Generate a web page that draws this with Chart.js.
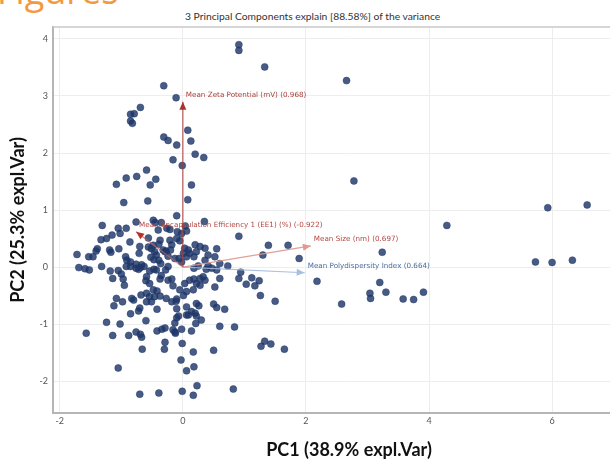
<!DOCTYPE html>
<html>
<head>
<meta charset="utf-8">
<script src="https://cdn.jsdelivr.net/npm/chart.js@4/dist/chart.umd.min.js"></script>
<style>
  html, body { margin: 0; padding: 0; background: #fff; overflow: hidden; }
  body { width: 610px; height: 462px; position: relative; }
  #slideHead { position: absolute; left: -3px; top: -27px; font: 36px "Open Sans", sans-serif; line-height: 36px; color: #f39a3e; white-space: nowrap; }
  #plotTitle { position: absolute; left: 185px; top: 10px; font: 10.3px Lato, sans-serif; color: #333; white-space: nowrap; }
  #wrap { position: absolute; left: 0; top: 0; width: 660px; height: 462px; }
</style>
</head>
<body>
<div id="slideHead">Figures</div>
<div id="plotTitle">3 Principal Components explain [88.58%] of the variance</div>
<div id="wrap"><canvas id="biplot"></canvas></div>
<script>
// PCA scores (individual samples)
const pc1Scores = [
  -0.31, -0.11, -0.69, -0.85, -0.79, -0.85, -0.82, 0.08, -0.31, -0.24, -0.10, 0.13, 0.20, 0.34, -0.16, -0.01, -0.59,
  0.91, 0.91, 1.33, 2.66, 2.78,
  4.29, 5.93, 6.57, 5.73, 6.00, 6.33, 3.58, 3.75, 3.91, 3.24, 2.18, 2.58, 3.05, 3.04, 3.20, 3.30,
  0.91, 1.39, 1.71, 1.30, 1.89, 0.55, 0.60, 0.73, 0.94, 0.91, 1.12, 1.24, 1.03, 1.17, 0.60, 1.26, 1.50, 0.50, 0.55, 0.68,
  0.60, 0.84, 1.27, 1.33, 1.43, 1.65, 0.50, 0.82, 0.30,
  -1.57, -1.24, -1.14, -1.02, -1.12, -0.85, -0.88, -0.76, -0.69, -0.67, -0.72, -0.70, -0.60, -0.66, -0.42, -0.42, -0.34,
  -0.29, -0.29, -0.30, -0.13, -0.16, -0.12, -0.02, -0.13, -0.10, -0.07, -0.10, -0.11, 0.06, 0.09, 0.20, 0.22, 0.21, 0.14,
  -0.01, 0.17, 0.22, 0.26, -1.05, -0.03, 0.06, 0.18, -0.70, -0.39, -0.01, 0.17, 0.23,
  -1.08, -0.92, -0.75, -0.53, -0.44, 0.14, 0.08, -0.96, -0.57, -0.10, 0.35, -0.76, -0.48, -0.45, -1.31, -1.05, -1.02,
  -0.92, -0.35, -0.26, -0.21, -0.40, -0.56, -0.86, -1.15, -1.24, -1.33,
  -1.41, -1.39, -1.72, -1.53, -1.46, -1.69, -1.59, -1.52, -1.32, -1.19, -1.17, -1.04, -1.18, -1.14, -0.93, -0.91, -0.85,
  -0.92, -0.85, -0.76, -0.76, -0.69, -1.05, -1.00, -0.97, -0.95, -1.08, -0.98, -0.83, -0.80, -0.68, -0.59, -0.59, -0.60,
  -0.54, -0.72, -0.67, -0.63, -0.70, -0.71, -0.56, -0.51, -0.48, -0.46, -0.43, -0.47, -0.52, -0.37, -0.39, -0.32, -0.29,
  -0.27, -0.24, -0.21, -0.18, -0.20, -0.39, -0.36, -0.43, -0.47, -0.54, -0.28, -0.24, -0.35, -0.37, -0.24, -0.18, -0.16,
  -0.48, -0.42, -0.46, -0.37, -0.54, -0.59, -0.51, -0.27, -0.18, -0.10, -0.05, 0.01, 0.06, 0.17, 0.03, 0.11, 0.18, 0.22,
  0.28, 0.28, 0.33, 0.36, 0.52, 0.18, 0.25, 0.38, 0.41, 0.47, 0.55, 0.41, 0.52, 0.36, 0.11, 0.18, 0.22, 0.03, 0.09, 0.01,
  0.06, 0.20, 0.28, 0.36, -0.05, -0.10, -0.09, -0.02, 0.06, 0.04, -0.13, -0.06, -0.02, 0.06, 0.14
]
const pc2Scores = [
  3.18, 2.97, 2.80, 2.68, 2.69, 2.56, 2.52, 2.40, 2.28, 2.22, 2.14, 2.21, 1.98, 1.92, 1.88, 1.78, 1.70,
  3.90, 3.80, 3.51, 3.27, 1.51,
  0.73, 1.04, 1.09, 0.09, 0.08, 0.12, -0.56, -0.57, -0.44, 0.26, -0.25, -0.65, -0.55, -0.46, -0.27, -0.44,
  0.54, 0.38, 0.38, 0.21, 0.15, 0.32, 0.06, 0.02, -0.09, -0.20, -0.19, -0.24, -0.30, -0.33, -0.20, -0.50, -0.60, -0.65, -0.71, -0.74,
  -1.04, -1.05, -1.39, -1.30, -1.35, -1.44, -1.46, -2.14, -0.93,
  -1.16, -0.97, -1.20, -1.00, -0.68, -0.82, -1.20, -1.14, -1.18, -1.23, -0.77, -0.72, -0.94, -1.44, -0.74, -1.12, -1.09,
  -1.07, -1.32, -1.44, -1.14, -1.10, -1.16, -1.09, -0.98, -0.89, -0.86, -0.73, -0.60, -0.84, -0.84, -0.81, -0.86, -0.99, -1.12,
  -1.34, -1.49, -0.64, -0.68, -1.77, -1.63, -1.82, -1.75, -2.23, -2.21, -2.18, -2.25, -2.08,
  1.45, 1.56, 1.59, 1.44, 1.54, 1.44, 1.18, 1.13, 1.16, 0.90, 0.80, 0.79, 0.82, 0.78, 0.73, 0.68, 0.59,
  0.68, 0.78, 0.68, 0.66, 0.65, 0.51, 0.44, 0.56, 0.50, 0.48,
  0.28, 0.32, 0.22, 0.18, 0.18, -0.01, -0.03, -0.05, 0.01, 0.30, 0.26, 0.32, -0.07, -0.20, 0.18, 0.12, 0.09,
  0.01, 0.01, 0.05, -0.02, -0.01, -0.06, -0.12, -0.21, -0.32, -0.55, -0.61, -0.55, -0.58, -0.49, -0.46, -0.17, -0.24,
  -0.29, -0.04, 0.04, 0.01, 0.36, 0.24, 0.35, 0.32, 0.38, 0.27, 0.21, 0.13, 0.17, 0.47, 0.40, 0.30, 0.27,
  0.28, 0.19, 0.47, 0.39, 0.30, 0.12, 0.06, -0.05, -0.04, -0.07, -0.05, 0.01, -0.15, -0.21, -0.23, -0.21, -0.33,
  -0.40, -0.42, -0.52, -0.51, -0.52, -0.61, -0.61, -0.55, -0.61, -0.56, -0.40, -0.50, -0.43, -0.40, -0.29, -0.23, -0.21, -0.29,
  -0.32, -0.20, -0.17, -0.23, -0.35, -0.02, 0.02, -0.04, 0.02, -0.02, -0.05, 0.21, 0.18, 0.12, 0.24, 0.18, 0.27, 0.33, 0.30, 0.24,
  0.18, 0.39, 0.36, 0.33, 0.46, 0.50, 0.62, 0.59, 0.63, 0.72, 0.15, 0.15, 0.09, -0.70, -0.78
]

// Variable loadings (arrows)
const loadingNames = [
  "Mean Zeta Potential (mV) (0.968)",
  "Mean Encapsulation Efficiency 1 (EE1) (%) (-0.922)",
  "Mean Size (nm) (0.697)",
  "Mean Polydispersity Index (0.664)"
]
const loadingPC1 = [0, -0.76, 2.08, 1.98]
const loadingPC2 = [2.90, 0.62, 0.37, -0.10]

const xTickStep = 2
const yTickStep = 1

// styles
const arrowStyles = [
  { line: "rgba(170,60,55,0.85)", head: "#a8332e", text: "#a8403c" },
  { line: "rgba(190,100,95,0.75)", head: "#b8322c", text: "#b5453f" },
  { line: "rgba(222,150,140,0.9)", head: "#e09a90", text: "#b5453f" },
  { line: "rgba(160,185,220,0.9)", head: "#a9bfe0", text: "#4d6d9f" }
]

const scorePoints = pc1Scores.map((v, i) => ({ x: v, y: pc2Scores[i] }))

const arrowSets = loadingNames.map((name, i) => ({
  type: "line",
  label: name,
  data: [{ x: 0, y: 0 }, { x: loadingPC1[i], y: loadingPC2[i] }],
  borderColor: arrowStyles[i].line,
  borderWidth: 1.2,
  pointRadius: 0,
  showLine: true,
  order: 0
}))

// arrowheads + labels at the arrow tips
const arrowTips = {
  id: "arrowTips",
  afterDatasetsDraw(chart) {
    const { ctx, scales: { x, y } } = chart
    const x0 = x.getPixelForValue(0)
    const y0 = y.getPixelForValue(0)
    loadingNames.forEach((name, i) => {
      const tx = x.getPixelForValue(loadingPC1[i])
      const ty = y.getPixelForValue(loadingPC2[i])
      const a = Math.atan2(ty - y0, tx - x0)
      const len = 8, half = 3.5
      ctx.save()
      ctx.fillStyle = arrowStyles[i].head
      ctx.beginPath()
      ctx.moveTo(tx, ty)
      ctx.lineTo(tx - len * Math.cos(a) + half * Math.sin(a), ty - len * Math.sin(a) - half * Math.cos(a))
      ctx.lineTo(tx - len * Math.cos(a) - half * Math.sin(a), ty - len * Math.sin(a) + half * Math.cos(a))
      ctx.closePath()
      ctx.fill()
      ctx.font = "7.2px 'DejaVu Sans'"
      ctx.fillStyle = arrowStyles[i].text
      ctx.textBaseline = "middle"
      ctx.fillText(name, tx + 3, ty - 7)
      ctx.restore()
    })
  }
}

// top frame line
const frameTop = {
  id: "frameTop",
  beforeDatasetsDraw(chart) {
    const { ctx, chartArea } = chart
    ctx.save()
    ctx.strokeStyle = "#c9c9c9"
    ctx.lineWidth = 1.5
    ctx.beginPath()
    ctx.moveTo(chartArea.left, chartArea.top)
    ctx.lineTo(chartArea.right, chartArea.top)
    ctx.stroke()
    ctx.restore()
  }
}

new Chart(document.getElementById("biplot"), {
  type: "scatter",
  data: {
    datasets: [
      ...arrowSets,
      {
        label: "Samples",
        data: scorePoints,
        backgroundColor: "rgba(30,55,105,0.82)",
        borderColor: "rgba(30,55,105,0.9)",
        borderWidth: 0.5,
        pointRadius: 3.5,
        order: 1
      }
    ]
  },
  options: {
    responsive: true,
    maintainAspectRatio: false,
    animation: false,
    layout: { padding: { top: 27, right: 15, left: 0, bottom: 0 } },
    plugins: {
      legend: { display: false },
      tooltip: { enabled: false }
    },
    scales: {
      x: {
        type: "linear",
        min: -2.11,
        max: 7.51,
        afterFit: (s) => { s.height = 49 },
        ticks: { stepSize: xTickStep, includeBounds: false, padding: 3, color: "#555", font: { family: "Lato", size: 9 } },
        grid: { color: "#ededed", drawTicks: false },
        border: { color: "#b5b5b5", width: 2 },
        title: { display: true, text: "PC1 (38.9% expl.Var)", color: "#111", padding: { top: 0, bottom: 1 }, font: { family: "Lato", size: 18, weight: "bold" } }
      },
      y: {
        type: "linear",
        min: -2.56,
        max: 4.21,
        afterFit: (s) => { s.width = 53 },
        ticks: { stepSize: yTickStep, includeBounds: false, padding: 5, color: "#555", font: { family: "Lato", size: 9 } },
        grid: { color: "#ededed", drawTicks: false },
        border: { color: "#b5b5b5", width: 2 },
        title: { display: true, text: "PC2 (25.3% expl.Var)", color: "#111", padding: { top: 7, bottom: 0 }, font: { family: "Lato", size: 18, weight: "bold" } }
      }
    }
  },
  plugins: [arrowTips, frameTop]
})
</script>
</body>
</html>
